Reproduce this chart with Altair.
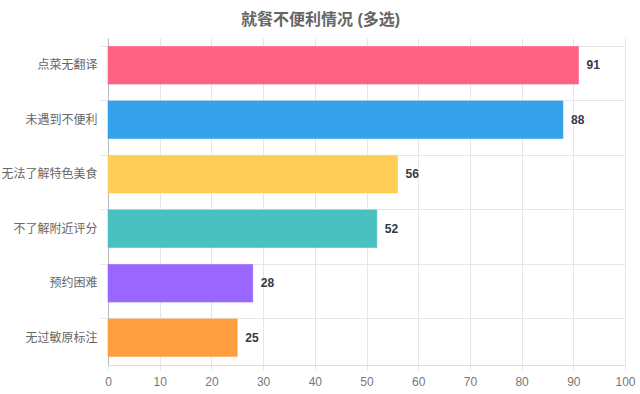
import altair as alt
import pandas as pd

categories = ["点菜无翻译", "未遇到不便利", "无法了解特色美食", "不了解附近评分", "预约困难", "无过敏原标注"]
values = [91, 88, 56, 52, 28, 25]
colors = ["#FF6384", "#36A2EB", "#FFCD56", "#4BC0C0", "#9966FF", "#FF9F40"]

df = pd.DataFrame({"cat": categories, "val": values})

FONT = "Liberation Sans, Arial, Noto Sans CJK SC, sans-serif"

y = alt.Y("cat:N", sort=categories, title=None,
          scale=alt.Scale(paddingInner=0.31, paddingOuter=0.155),
          axis=alt.Axis(bandPosition=0, grid=True, gridColor="#e6e6e6",
                        tickColor="#e6e6e6", tickSize=8, domainColor="#bbbbbb",
                        labelColor="#666666", labelFontSize=12, labelFont=FONT,
                        labelPadding=3))
x = alt.X("val:Q", title=None,
          scale=alt.Scale(domain=[0, 100], nice=False),
          axis=alt.Axis(values=list(range(0, 101, 10)), grid=True, gridColor="#e6e6e6",
                        tickColor="#e6e6e6", tickSize=5, domainColor="#dddddd",
                        labelColor="#777777", labelFontSize=12, labelFont=FONT,
                        labelPadding=6, labelFlush=False))

bars = alt.Chart(df).mark_bar(strokeWidth=1, strokeOpacity=0.6).encode(
    x=x, y=y,
    color=alt.Color("cat:N", sort=categories, scale=alt.Scale(domain=categories, range=colors), legend=None),
    stroke=alt.Stroke("cat:N", sort=categories, scale=alt.Scale(domain=categories, range=colors), legend=None),
)

text = alt.Chart(df).mark_text(align="left", baseline="middle", dx=8, fontWeight="bold",
                               fontSize=12, font=FONT, color="#333a44").encode(
    x="val:Q", y=alt.Y("cat:N", sort=categories), text="val:Q")

chart = (bars + text).properties(
    width=517, height=327,
    autosize=alt.AutoSizeParams(type="none"),
    padding={"left": 108, "top": 38, "right": 15, "bottom": 29},
    title=alt.TitleParams("就餐不便利情况 (多选)", fontSize=16, fontWeight="bold",
                          color="#666666", font=FONT, anchor="middle", dx=-46, offset=10),
).configure_view(stroke=None)

chart.save("out.html", embed_options={"renderer": "svg", "actions": False})
